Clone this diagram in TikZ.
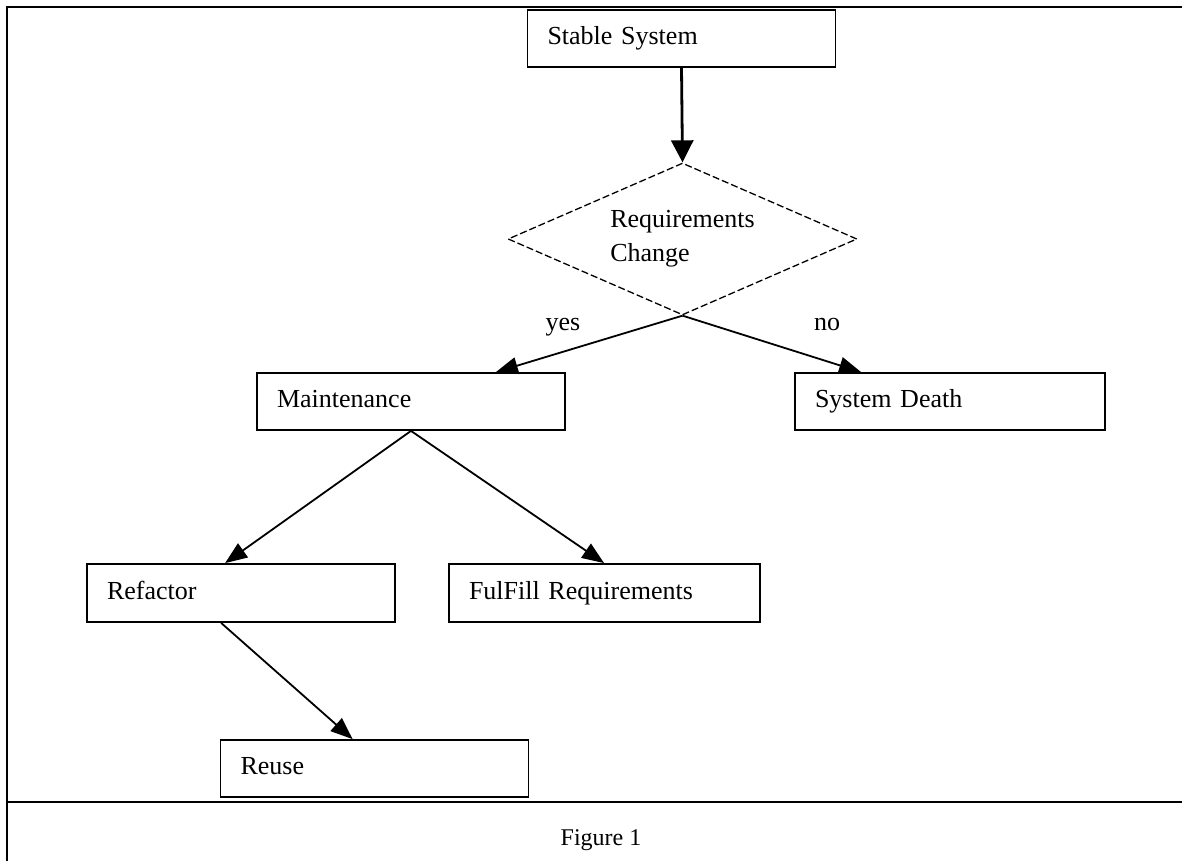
\documentclass[tikz,border=0pt]{standalone}
\usepackage{fontspec}
\setmainfont{Liberation Serif}
\usetikzlibrary{arrows.meta,shapes.geometric,calc}
\begin{document}
\begin{tikzpicture}[x=1pt,y=-1pt,
  box/.style={draw, line width=1.8pt, minimum width=308pt, minimum height=57pt,
    inner sep=0pt, text width=268pt, align=left, text height=18pt, text depth=6pt,
    font=\fontsize{26}{30}\selectfont},
  decision/.style={diamond, draw, dash pattern=on 7pt off 3pt, line width=1.3pt,
    minimum width=349pt, minimum height=152pt, inner sep=0pt},
  dtext/.style={align=left, inner sep=0pt, font=\fontsize{26}{34}\selectfont},
  arr/.style={draw, line width=1.8pt, -{Triangle[length=22pt,width=17pt]}},
  lbl/.style={anchor=base, inner sep=0pt, font=\fontsize{26}{30}\selectfont},
  frame/.style={line width=2.5pt}]
\useasboundingbox (0,0) rectangle (1182,861);
% frame
\draw[frame] (1182,7) -- (7,7) -- (7,861);
\draw[frame] (7,802) -- (1182,802);
% nodes
\node[box] (ss) at (681.5,38.5) {Stable System};
\node[decision, label={[dtext]center:{Requirements\\Change}}] (d) at (682.5,239) {};
\node[box] (m) at (411,401.5) {Maintenance};
\node[box, minimum width=310pt, text width=270pt] (sd) at (950,401.5) {System Death};
\node[box, minimum height=58pt] (r) at (241,593) {Refactor};
\node[box, minimum height=58pt, minimum width=311pt, text width=271pt] (f) at (604.5,593) {FulFill Requirements};
\node[box] (ru) at (374.5,768.5) {Reuse};
\node[lbl] (yes) at (563,330) {yes};
\node[lbl] (no) at (827,330) {no};
\node[anchor=base, inner sep=0pt, font=\fontsize{24}{28}\selectfont] (cap) at (601,845) {Figure 1};
% connectors
\draw[line width=2.8pt, -{Triangle[length=22pt,width=22pt]}] (ss.south) -- (d.north);
\draw[arr] (d.south) -- ($(m.north east)+(-70,0)$);
\draw[arr] (d.south) -- ($(sd.north west)+(67,0)$);
\draw[arr] (m.south) -- ($(r.north west)+(139,0)$);
\draw[arr] (m.south) -- ($(f.north west)+(156,0)$);
\draw[arr] ($(r.south west)+(135,0)$) -- ($(ru.north west)+(133,0)$);
\end{tikzpicture}
\end{document}
